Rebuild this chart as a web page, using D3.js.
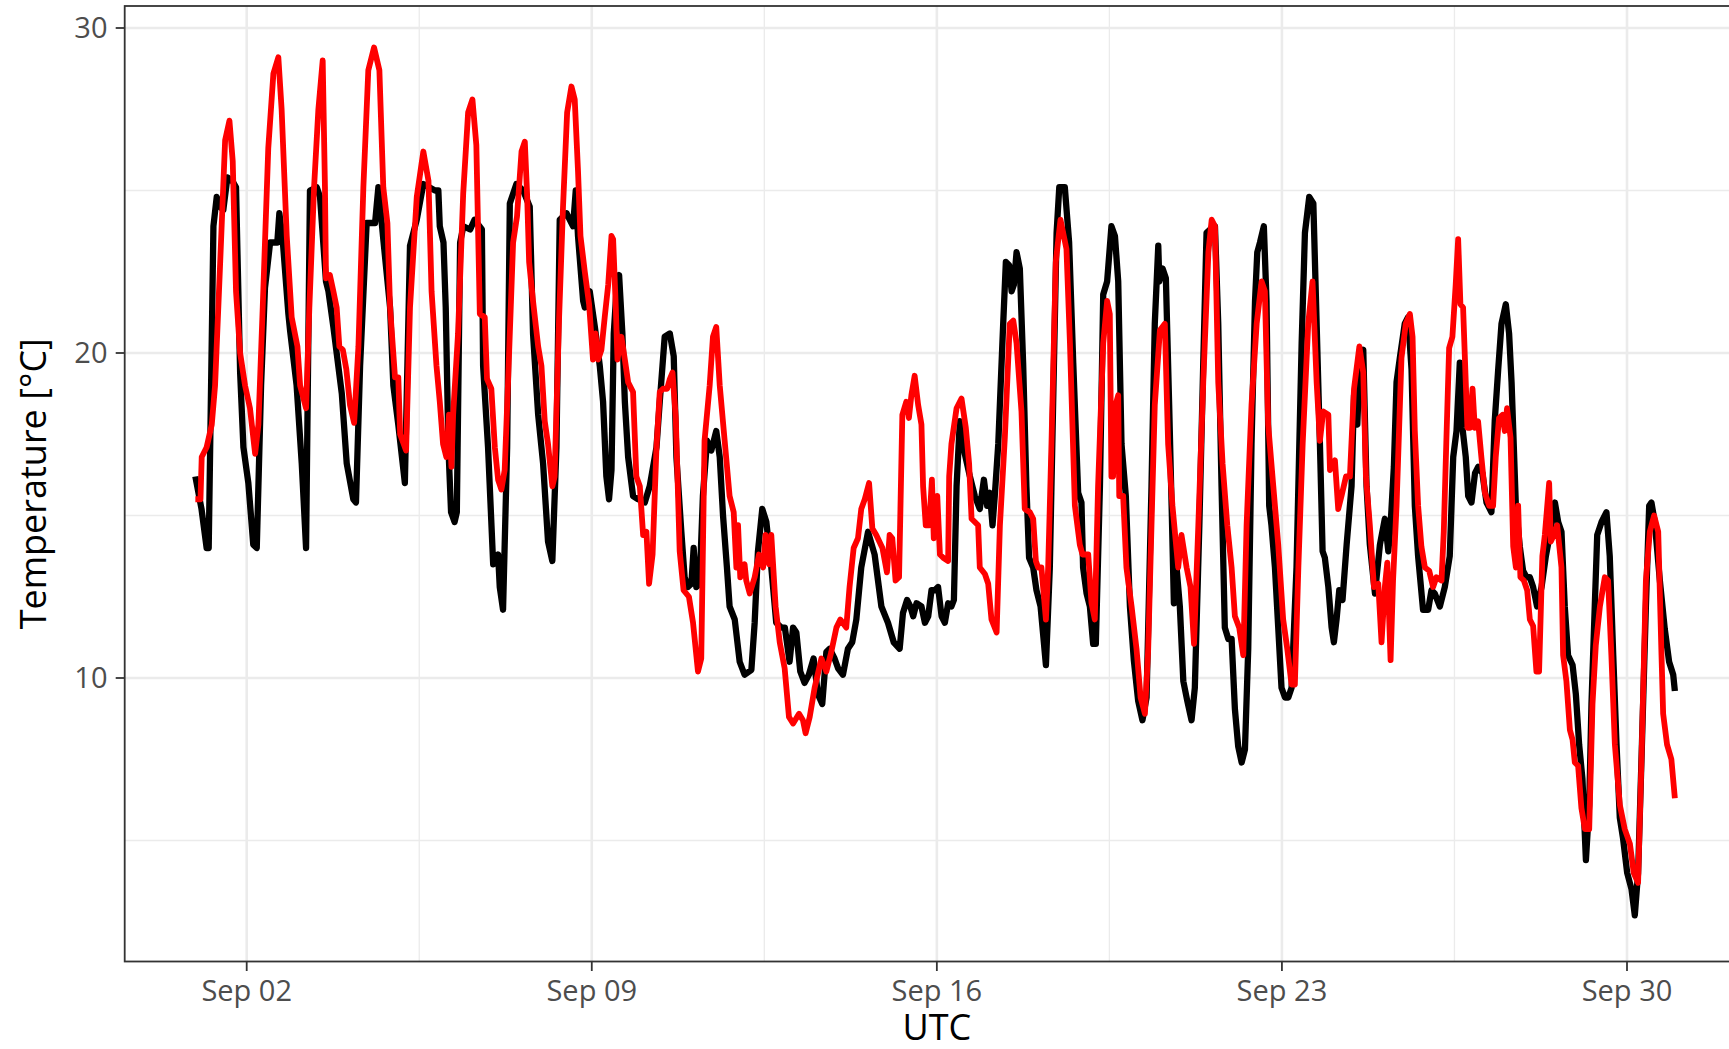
<!DOCTYPE html>
<meta charset="utf-8">
<title>Temperature, September</title>
<script src="https://d3js.org/d3.v7.min.js"></script>
<style>
  html, body { margin: 0; padding: 0; background: #fff; }
  svg { display: block; font-family: "Open Sans", "Noto Sans", sans-serif; }
</style>
<body>
<script>

// hours after Sep 01 00:00 UTC, temperature in degC
var blackPts = [
  [-1,16.2],[2,15.2],[4.5,14.0],[5.5,14.0],[7.8,23.9],[9.4,24.8],[11,24.5],[12.6,24.4],[14.6,25.4],[17,25.3],
  [18.8,25.1],[20.8,19.4],[22.4,17.1],[24.8,16.0],[27.2,14.1],[28.9,14.0],[31,19.0],[32.9,22.0],[35.4,23.4],[38.9,23.4],
  [39.9,24.3],[41.5,23.5],[44.3,21.2],[45.1,20.7],[48.3,19.0],[50.8,16.6],[52.9,14.0],[54.8,25.0],[58.1,25.1],[59.7,24.8],
  [62.6,22.2],[63.8,21.9],[66.2,20.8],[70.3,18.75],[72.7,16.6],[75.9,15.5],[77.2,15.4],[79.2,19.6],[82.4,24.0],[86.5,24.0],
  [88.1,25.1],[90.5,23.5],[93.8,21.4],[95.4,19.0],[97.8,17.8],[101,16.0],[103.5,23.3],[106.8,24.1],[110,25.2],[115.7,25.0],
  [117.3,25.0],[118,23.9],[119.8,23.4],[120.9,21.4],[122.2,17.1],[123.5,15.1],[125.2,14.8],[126.3,15.1],[127.9,23.4],[129.5,23.9],
  [132.8,23.8],[134.9,24.1],[138.5,23.8],[139.1,19.6],[141.5,17.1],[144,13.5],[146.4,13.8],[147.2,12.8],[148.8,12.1],[150.8,17.1],
  [152.1,24.6],[155.3,25.2],[158.6,25.0],[161.8,24.5],[163.4,20.6],[165.9,18.1],[168.3,16.6],[170.7,14.2],[172.8,13.6],[174.8,17.1],
  [176.4,24.1],[179.7,24.3],[182.9,23.9],[184.2,25.0],[185.3,23.6],[187.8,21.6],[188.6,21.4],[191,21.9],[193.5,20.8],[195.9,19.6],
  [197.5,18.5],[199.1,16.2],[200.4,15.5],[201.6,16.4],[202.7,20.6],[204,21.9],[205.3,22.4],[206.9,20.6],[208.1,18.5],[209.7,16.8],
  [212.1,15.6],[214.6,15.5],[217.8,15.4],[220.2,15.9],[223.5,17.1],[225.1,18.5],[227.5,20.5],[230,20.6],[231.9,19.9],[233.2,16.8],
  [235.6,14.5],[237.2,13.1],[238.8,12.8],[240.5,12.9],[241.6,14.0],[242.9,12.8],[244.5,12.9],[246.1,15.6],[248.1,17.3],[250.2,17.0],
  [252.6,17.6],[254.3,16.8],[255.9,15.0],[257.8,13.4],[259.1,12.2],[261.6,11.8],[264,10.5],[266.4,10.1],[269.7,10.25],[271.3,11.7],
  [272.9,13.9],[275,15.2],[277,14.8],[279.4,13.4],[281.8,11.7],[284.3,11.55],[286,11.55],[288.3,10.5],[290,11.55],[291.6,11.4],
  [293.5,10.2],[295.6,9.85],[297.7,10.1],[300,10.6],[302.1,9.5],[304.2,9.2],[306.2,10.8],[307.8,10.9],[310.2,10.6],[311.9,10.3],
  [314.3,10.1],[316.7,10.9],[318.8,11.1],[320.8,11.8],[323.2,13.4],[326.5,14.5],[329.7,13.8],[333,12.2],[336.2,11.7],[339,11.1],
  [341.9,10.9],[343.5,12.0],[345.5,12.4],[347.1,12.2],[348.5,11.9],[350.1,12.3],[352.5,12.2],[354.2,11.7],[355.8,11.9],[357.4,12.7],
  [359,12.7],[360.6,12.8],[362.3,11.9],[363.9,11.7],[365.5,12.3],[367.1,12.2],[368.3,12.4],[369.6,15.9],[371.2,17.9],[373.6,16.9],
  [376.1,16.2],[378.5,15.6],[380.9,15.2],[382.9,16.1],[384.5,15.3],[385.8,15.7],[387.1,14.7],[388.2,15.6],[389.9,17.2],[392.3,20.9],
  [393.6,22.8],[395.2,22.7],[396.4,21.9],[397.5,22.1],[398.8,23.1],[400.4,22.6],[402,19.7],[403.6,15.9],[404.9,13.7],[406.9,13.4],
  [408.5,12.7],[410.5,12.2],[411.8,11.3],[413.1,10.4],[415,13.4],[416.6,18.4],[418.3,23.7],[419.6,25.1],[422.3,25.1],[424.4,23.4],
  [426.4,19.7],[428.8,15.7],[430.4,15.4],[431.2,13.4],[432.9,12.6],[434.5,12.2],[436.1,11.05],[437.4,11.05],[439.4,15.9],[441,21.8],
  [442.9,22.2],[445,23.9],[446.7,23.6],[448.3,22.2],[449.9,17.2],[452,15.6],[454,12.2],[455.9,10.55],[458,9.3],[460.1,8.7],
  [462.1,9.4],[464.5,15.9],[466.1,20.9],[467.8,23.3],[468.3,22.2],[469.9,22.6],[471.5,22.3],[473.1,18.4],[474.3,15.3],[475.4,12.3],
  [476.7,13.4],[478.3,12.2],[480,9.9],[481.9,9.3],[484,8.7],[485.6,9.7],[487.8,14.7],[489.7,19.7],[491.3,23.7],[493,23.8],
  [495.4,23.9],[497,20.9],[498.6,15.9],[500.2,11.55],[501.9,11.2],[503.5,11.2],[505.1,9.05],[506.7,7.9],[508.4,7.4],[510,7.8],
  [511.6,10.9],[513.2,17.2],[514.9,21.6],[516,23.1],[517.3,23.4],[519.2,23.9],[520.5,21.6],[521.8,15.3],[522.9,14.7],[524.6,13.4],
  [526.2,11.55],[527.8,9.7],[529.5,9.4],[531.1,9.4],[532.7,9.7],[535.1,13.4],[537.6,20.3],[539.2,23.7],[541.3,24.8],[543.3,24.6],
  [544.9,20.9],[546.5,17.2],[547.8,13.9],[548.9,13.7],[550.6,12.8],[552.2,11.55],[553.3,11.1],[554.6,11.8],[555.9,12.7],[557.5,12.4],
  [559.5,14.1],[561.9,15.9],[563.1,18.7],[564.7,17.8],[566,19.9],[567.6,20.1],[569.2,15.9],[570.8,14.1],[573.3,12.6],[575.7,14.1],
  [578.1,14.9],[579.8,13.9],[580.9,14.7],[582.5,16.5],[583.8,19.1],[585.4,19.85],[587.8,20.9],[589.4,21.1],[591.1,19.5],[592.7,15.3],
  [594.3,13.75],[596.7,12.1],[599.2,12.1],[600.8,12.7],[602.4,12.6],[604.9,12.2],[607.3,12.8],[609.7,13.75],[611.4,16.8],[613,17.6],
  [614.6,19.7],[615.9,17.7],[617.5,16.8],[618.7,15.6],[620.3,15.4],[622,16.3],[623.6,16.5],[625.6,16.3],[627.6,15.4],[630,15.1],
  [631.6,17.9],[633.3,19.5],[634.9,20.9],[637,21.5],[638.6,20.6],[639.8,19.1],[641.9,15.3],[643.8,14.05],[645.4,13.3],[647.1,13.1],
  [648.7,13.1],[650.3,12.8],[652.2,12.2],[654.4,12.8],[656.5,13.75],[658.4,14.4],[660.9,15.4],[662.5,14.8],[664.1,14.5],[665.7,12.2],
  [667.3,10.7],[669.5,10.4],[671.1,9.5],[672.7,7.95],[674.3,6.9],[676,4.4],[677.6,6.1],[678.7,9.2],[680.3,12.2],[681.5,14.4],
  [683.6,14.8],[686,15.1],[687.6,13.75],[689.3,10.7],[690.9,7.95],[692.5,5.7],[694.1,5.05],[696.1,4.0],[698.2,3.5],[699.8,2.7],
  [701.4,4.0],[703.1,7.6],[705.2,12.2],[706.8,15.3],[707.9,15.4],[709.5,14.8],[712,13.0],[714.4,11.5],[716.5,10.5],[718.5,10.1],
  [719.3,9.6]
];

var redPts = [
  [-1,15.5],[1.5,15.5],[2.1,16.8],[4.5,17.1],[7,17.8],[8.6,19.0],[11,22.65],[13.5,26.55],[15.6,27.15],[17.2,25.9],
  [18.8,21.9],[20.8,20.0],[23.2,19.0],[25.6,18.3],[28.1,16.9],[29.7,17.8],[31.8,21.4],[34.5,26.3],[37,28.6],[39.4,29.1],
  [41,27.5],[43.5,23.6],[45.9,21.1],[48.7,20.2],[50,19.0],[52.9,18.3],[54.5,21.4],[56.8,25.1],[58.9,27.5],[61,29.0],
  [62.1,25.1],[62.6,22.3],[64.5,22.4],[66.2,21.9],[67.8,21.4],[69.1,20.2],[70.8,20.1],[72.5,19.5],[74.3,18.4],[76.3,17.85],
  [78.4,20.2],[80.8,25.1],[83.2,28.7],[86,29.4],[88.6,28.7],[90.5,25.1],[92.5,24.0],[93.8,21.4],[96.2,19.25],[97.8,19.25],
  [98.7,17.5],[101.6,17.0],[103.5,21.4],[106.8,24.8],[110,26.2],[112.5,25.3],[114,21.9],[116.4,19.6],[118,18.5],[119.6,17.2],
  [121.2,16.8],[122.5,18.1],[123.7,16.5],[124.5,18.1],[126.9,20.6],[129.4,24.9],[131.8,27.4],[133.9,27.8],[135.8,26.4],[137.5,21.2],
  [139.9,21.1],[141,19.2],[143.1,18.9],[144.8,17.1],[146.4,16.1],[148,15.8],[149.6,16.4],[151.3,19.2],[153.7,23.4],[155.6,24.2],
  [157.8,26.2],[159.4,26.5],[160.5,24.9],[161.5,22.8],[163.4,21.6],[165.9,20.2],[167.5,19.6],[169.1,17.9],[170.7,17.2],[172.8,15.9],
  [173.9,16.2],[176.1,21.1],[178,24.5],[180,27.4],[182.1,28.2],[183.7,27.8],[185.3,25.6],[186.5,23.6],[188.6,22.5],[190.7,21.5],
  [192.6,19.8],[193.8,20.6],[195.1,19.8],[196.7,20.1],[198.3,21.1],[200,22.1],[201.6,23.6],[202.4,23.5],[203.7,21.4],[204.5,19.8],
  [206.4,20.5],[208.1,19.8],[209.7,19.1],[212.1,18.8],[213.7,16.2],[215.4,15.9],[217,14.4],[218.6,14.5],[219.9,12.9],[221.6,13.8],
  [223.5,17.1],[225.1,18.8],[226.7,18.9],[228.7,18.9],[230,19.2],[231.3,19.4],[232.9,18.0],[234.8,13.9],[236.7,12.7],[239.3,12.5],
  [241.3,11.7],[243.7,10.2],[245.3,10.6],[246.9,17.3],[249.4,19.0],[251,20.5],[252.6,20.8],[254.3,19.0],[256.7,17.3],[259.1,15.6],
  [261.1,15.1],[262.4,13.4],[263.2,14.7],[264.3,13.1],[266.4,13.5],[267.2,13.0],[268.9,12.6],[271.3,13.1],[273.4,13.8],[275.4,13.4],
  [276.6,14.4],[278.3,13.5],[279.4,14.4],[281.5,12.2],[283.5,11.1],[285.9,10.3],[288,8.8],[290,8.6],[292.9,8.9],[294.8,8.7],
  [296.1,8.3],[298.1,8.8],[300.5,9.7],[303.8,10.6],[306.2,10.2],[308.6,10.8],[311.1,11.55],[313,11.8],[315.9,11.55],[317.5,12.8],
  [319.5,14.0],[321.6,14.3],[323.2,15.2],[324.9,15.5],[327,16.0],[328.6,14.6],[330.5,14.4],[333.5,14.0],[335.7,13.25],[337,14.4],
  [338.3,14.3],[339.9,13.0],[341.6,13.1],[343.2,18.1],[345.1,18.5],[346.4,18.0],[347.6,18.7],[349.2,19.3],[350.9,18.4],[352.5,17.8],
  [353.3,15.9],[354.6,14.7],[356.3,14.7],[357.6,16.1],[358.5,14.3],[360.2,15.6],[361.5,13.8],[363.1,13.7],[365.5,13.6],[366,16.2],
  [367.1,17.2],[369.6,18.3],[372,18.6],[374.1,17.7],[375.7,16.6],[376.9,14.9],[378.5,14.8],[380.1,14.7],[380.9,13.4],[383.4,13.2],
  [385,12.9],[386.6,11.8],[389.1,11.4],[390.7,14.7],[393.1,17.4],[395.5,20.9],[397.2,21.0],[398.8,20.3],[401.2,18.2],[402.8,15.2],
  [405.3,15.1],[406.9,14.9],[408.2,13.6],[409.3,13.4],[410.9,13.4],[413.1,11.8],[414.2,13.4],[415.8,17.2],[417.9,22.8],[420.2,24.1],
  [423.1,23.2],[424.8,20.3],[427.2,15.3],[429.6,14.1],[430.9,13.8],[433.7,13.8],[435.3,12.3],[436.9,11.8],[438.5,15.9],[441,20.3],
  [442.9,21.6],[444.2,21.2],[445,16.2],[445.8,16.2],[447,18.4],[448.3,18.7],[448.8,15.6],[450.7,15.6],[452.3,13.4],[454.8,12.2],
  [457.2,10.9],[459.2,9.4],[461.3,8.9],[462.9,10.9],[464.5,14.7],[466.1,18.4],[468.6,20.7],[471,20.9],[472.6,17.2],[474.7,15.3],
  [477.5,13.4],[479.1,14.4],[481.6,13.4],[483.5,12.8],[485.2,11.05],[487.3,14.7],[489.7,19.1],[492.2,23.1],[493.8,24.1],[495.4,23.9],
  [497,19.1],[499.1,16.6],[501.4,14.7],[503.5,13.4],[505.1,11.9],[507.2,11.55],[509.2,10.7],[510.8,14.7],[513.2,18.4],[515.7,20.9],
  [518.1,22.2],[519.7,21.9],[521.3,17.8],[523.8,15.9],[526.2,14.1],[528.6,11.8],[530.6,10.9],[532.7,9.8],[534.3,9.8],[536,13.4],
  [538.1,17.2],[540.8,20.9],[542.9,22.2],[544.9,19.1],[546.5,17.3],[548.1,18.2],[550.6,18.1],[551.4,16.4],[553.8,16.7],[555.4,15.2],
  [557,15.6],[559.2,16.2],[561.1,16.2],[563.1,18.9],[565.7,20.2],[567.6,19.4],[568.9,16.2],[570.8,14.7],[572.8,12.8],[574.9,12.9],
  [576.5,11.1],[578.1,12.8],[579.3,13.55],[580.9,10.55],[582.1,13.0],[583.8,15.3],[586.2,19.85],[588.3,20.9],[590.3,21.2],[591.6,20.5],
  [592.7,17.6],[594.3,15.3],[595.9,14.05],[597.6,13.4],[599.7,13.3],[601.6,12.8],[603.2,13.1],[605.7,13.0],[606.8,14.5],[608.1,17.4],
  [609.4,20.15],[611,20.5],[612.6,22.1],[613.8,23.5],[614.9,21.5],[616.2,21.4],[617.5,19.1],[618.3,17.7],[619.5,17.7],[620.8,18.9],
  [621.9,17.7],[623.5,17.9],[625.1,16.8],[626.8,15.7],[628.9,15.3],[630.8,15.3],[632.1,16.8],[633.7,18.0],[635.4,18.1],[636.5,17.6],
  [637.6,18.3],[639.3,17.4],[640.6,14.05],[641.9,13.4],[643,15.3],[644.1,13.1],[645.8,13.0],[647.4,12.7],[648.7,11.8],[650.3,11.6],
  [651.9,10.2],[653.2,10.2],[654.8,13.75],[656,14.4],[658.1,16.0],[658.9,14.2],[660.4,14.4],[662,14.7],[664.1,13.4],[664.9,10.7],
  [666.5,9.9],[668.2,8.4],[669.5,8.1],[670.6,7.4],[672.2,7.3],[673.8,6.0],[675.5,5.35],[677.6,5.35],[679.2,9.2],[680.8,11.0],
  [682.8,12.2],[685.2,13.1],[686.8,13.0],[688.4,10.7],[690.1,7.95],[692.5,6.1],[694.9,5.35],[697.4,4.9],[699.3,4.0],[701.4,3.7],
  [703.1,7.6],[705.2,13.0],[707.1,14.5],[709.2,15.0],[711.2,14.5],[712.8,10.7],[713.6,8.9],[715.5,7.95],[717.6,7.5],[719.3,6.3]
];

var xTickDays = ["2020-09-02", "2020-09-09", "2020-09-16", "2020-09-23", "2020-09-30"];
var xMinorDays = ["2020-09-05T12:00Z", "2020-09-12T12:00Z", "2020-09-19T12:00Z", "2020-09-26T12:00Z"];
var yTicks = [10, 20, 30];
var yMinor = [5, 15, 25];

var W = 1729, H = 1049;
var panel = {left: 124.7, top: 6, right: 1749, bottom: 961.5};
var t0 = Date.UTC(2020, 8, 1);

var svg = d3.select("body").append("svg")
    .attr("width", W)
    .attr("height", H);

var x = d3.scaleUtc()
    .domain([new Date(xTickDays[0]), new Date(xTickDays[4])])
    .range([246.7, 1627]);

var y = d3.scaleLinear()
    .domain([10, 30])
    .range([678, 28]);

function toDate(h) { return new Date(t0 + h * 3600e3); }

// grid
var grid = svg.append("g");
grid.selectAll(".ymin").data(yMinor).enter().append("line")
    .attr("x1", panel.left).attr("x2", panel.right)
    .attr("y1", y).attr("y2", y)
    .attr("stroke", "#ebebeb").attr("stroke-width", 1.3);
grid.selectAll(".xmin").data(xMinorDays).enter().append("line")
    .attr("x1", function(d) { return x(new Date(d)); })
    .attr("x2", function(d) { return x(new Date(d)); })
    .attr("y1", panel.top).attr("y2", panel.bottom)
    .attr("stroke", "#ebebeb").attr("stroke-width", 1.3);
grid.selectAll(".ymaj").data(yTicks).enter().append("line")
    .attr("x1", panel.left).attr("x2", panel.right)
    .attr("y1", y).attr("y2", y)
    .attr("stroke", "#ebebeb").attr("stroke-width", 2.6);
grid.selectAll(".xmaj").data(xTickDays).enter().append("line")
    .attr("x1", function(d) { return x(new Date(d)); })
    .attr("x2", function(d) { return x(new Date(d)); })
    .attr("y1", panel.top).attr("y2", panel.bottom)
    .attr("stroke", "#ebebeb").attr("stroke-width", 2.6);

svg.append("clipPath").attr("id", "clip")
  .append("rect")
    .attr("x", panel.left).attr("y", panel.top)
    .attr("width", panel.right - panel.left)
    .attr("height", panel.bottom - panel.top);

var line = d3.line()
    .x(function(d) { return x(toDate(d[0])); })
    .y(function(d) { return y(d[1]); });

var plot = svg.append("g").attr("clip-path", "url(#clip)");
plot.append("path")
    .datum(blackPts)
    .attr("d", line)
    .attr("fill", "none")
    .attr("stroke", "#000")
    .attr("stroke-width", 6.3)
    .attr("stroke-linejoin", "round");
plot.append("path")
    .datum(redPts)
    .attr("d", line)
    .attr("fill", "none")
    .attr("stroke", "#ff0000")
    .attr("stroke-width", 5.8)
    .attr("stroke-linejoin", "round");

// border
svg.append("rect")
    .attr("x", panel.left).attr("y", panel.top)
    .attr("width", panel.right - panel.left)
    .attr("height", panel.bottom - panel.top)
    .attr("fill", "none")
    .attr("stroke", "#333")
    .attr("stroke-width", 1.8);

// y axis
var yAx = svg.append("g");
yAx.selectAll("line").data(yTicks).enter().append("line")
    .attr("x1", panel.left - 9).attr("x2", panel.left)
    .attr("y1", y).attr("y2", y)
    .attr("stroke", "#333").attr("stroke-width", 1.8);
yAx.selectAll("text").data(yTicks).enter().append("text")
    .attr("x", 107.5)
    .attr("y", function(d) { return y(d) + 10.3; })
    .attr("text-anchor", "end")
    .attr("fill", "#4d4d4d")
    .style("font-size", "29px")
    .text(function(d) { return d; });

// x axis
var fmt = d3.utcFormat("%b %d");
var xAx = svg.append("g");
xAx.selectAll("line").data(xTickDays).enter().append("line")
    .attr("x1", function(d) { return x(new Date(d)); })
    .attr("x2", function(d) { return x(new Date(d)); })
    .attr("y1", panel.bottom).attr("y2", panel.bottom + 9.5)
    .attr("stroke", "#333").attr("stroke-width", 1.8);
xAx.selectAll("text").data(xTickDays).enter().append("text")
    .attr("x", function(d) { return x(new Date(d)); })
    .attr("y", 1000.5)
    .attr("text-anchor", "middle")
    .attr("fill", "#4d4d4d")
    .style("font-size", "29px")
    .text(function(d) { return fmt(new Date(d)); });

// titles
svg.append("text")
    .attr("x", (panel.left + panel.right) / 2)
    .attr("y", 1040)
    .attr("text-anchor", "middle")
    .style("font-size", "36px")
    .text("UTC");
svg.append("text")
    .attr("transform", "translate(46," + (panel.top + panel.bottom) / 2 + ") rotate(-90)")
    .attr("text-anchor", "middle")
    .style("font-size", "36px")
    .text("Temperature [°C]");

</script>
</body>
